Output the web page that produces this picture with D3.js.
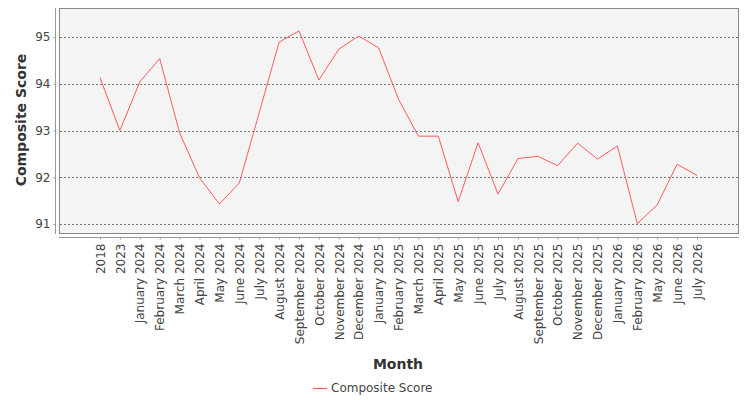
<!DOCTYPE html>
<html>
<head>
<meta charset="utf-8">
<script src="https://cdn.jsdelivr.net/npm/d3@7"></script>
<style>
  body { margin: 0; background: #fff; }
  text { font-family: "DejaVu Sans", sans-serif; }
</style>
</head>
<body>
<div id="chart"></div>
<script>
const months = ["2018", "2023", "January 2024", "February 2024", "March 2024", "April 2024",
  "May 2024", "June 2024", "July 2024", "August 2024", "September 2024", "October 2024",
  "November 2024", "December 2024", "January 2025", "February 2025", "March 2025",
  "April 2025", "May 2025", "June 2025", "July 2025", "August 2025", "September 2025",
  "October 2025", "November 2025", "December 2025", "January 2026", "February 2026",
  "May 2026", "June 2026", "July 2026"];

const scores = [94.13, 93.0, 94.04, 94.54, 92.95, 91.99, 91.43, 91.88, 93.38, 94.89,
  95.13, 94.08, 94.74, 95.02, 94.77, 93.67, 92.88, 92.88, 91.48, 92.74, 91.64,
  92.40, 92.45, 92.25, 92.73, 92.39, 92.67, 91.01, 91.41, 92.28, 92.04];

const yTicks = [91, 92, 93, 94, 95];

const width = 750,
  height = 400;
const plot = { left: 59, right: 738, top: 8, bottom: 233 };

const svg = d3
  .select("#chart")
  .append("svg")
  .attr("width", width)
  .attr("height", height);

const x = d3
  .scalePoint()
  .domain(months)
  .range([plot.left, plot.right])
  .padding(2.06);

const y = d3.scaleLinear().domain([90.81, 95.62]).range([plot.bottom, plot.top]);

// plot background
svg
  .append("rect")
  .attr("x", plot.left + 0.5)
  .attr("y", plot.top + 0.5)
  .attr("width", plot.right - plot.left)
  .attr("height", plot.bottom - plot.top)
  .attr("fill", "#f4f4f4")
  .attr("stroke", "#888")
  .attr("stroke-width", 1);

// grid lines
svg
  .append("g")
  .selectAll("line")
  .data(yTicks)
  .enter()
  .append("line")
  .attr("x1", plot.left + 1)
  .attr("x2", plot.right)
  .attr("y1", (d) => Math.round(y(d)) + 0.5)
  .attr("y2", (d) => Math.round(y(d)) + 0.5)
  .attr("stroke", "#777")
  .attr("stroke-width", 1)
  .attr("stroke-dasharray", "2,2");

// y axis
const yAxis = svg
  .append("g")
  .attr("transform", "translate(55.5,0)")
  .call(d3.axisLeft(y).tickValues(yTicks).tickSize(2).tickPadding(3).tickFormat(d3.format("d")));
yAxis.select(".domain").attr("stroke", "#999").attr("d", `M0,${plot.top}V${plot.bottom + 1}`);
yAxis.selectAll(".tick line").attr("stroke", "#999");
yAxis.selectAll(".tick text").attr("fill", "#444").style("font-size", "12px");

// x axis
const xAxis = svg
  .append("g")
  .attr("transform", "translate(0,237.5)")
  .call(d3.axisBottom(x).tickSize(2).tickPadding(4));
xAxis.select(".domain").attr("stroke", "#999").attr("d", `M${plot.left},0H${plot.right + 1}`);
xAxis.selectAll(".tick line").attr("stroke", "#999");
xAxis
  .selectAll(".tick text")
  .attr("fill", "#444")
  .style("font-size", "12px")
  .attr("text-anchor", "end")
  .attr("dy", "0.35em")
  .attr("transform", "rotate(-90)")
  .attr("x", -6)
  .attr("y", 0);

// axis titles
svg
  .append("text")
  .attr("transform", "translate(26,120) rotate(-90)")
  .attr("text-anchor", "middle")
  .attr("fill", "#333")
  .style("font-size", "14px")
  .style("font-weight", "bold")
  .text("Composite Score");

svg
  .append("text")
  .attr("x", 398)
  .attr("y", 369)
  .attr("text-anchor", "middle")
  .attr("fill", "#333")
  .style("font-size", "14px")
  .style("font-weight", "bold")
  .text("Month");

// series line
const line = d3
  .line()
  .x((d, i) => x(months[i]))
  .y((d) => y(d));

svg
  .append("path")
  .datum(scores)
  .attr("d", line)
  .attr("fill", "none")
  .attr("stroke", "#ff5a5a")
  .attr("stroke-width", 1);

// legend
const legend = svg.append("g").attr("transform", "translate(313,388)");
legend
  .append("line")
  .attr("x1", 0)
  .attr("x2", 14)
  .attr("y1", 0.5)
  .attr("y2", 0.5)
  .attr("stroke", "#ff5a5a")
  .attr("stroke-width", 1);
legend
  .append("text")
  .attr("x", 18)
  .attr("y", 0)
  .attr("dy", "0.35em")
  .attr("fill", "#444")
  .style("font-size", "12px")
  .text("Composite Score");
</script>
</body>
</html>
